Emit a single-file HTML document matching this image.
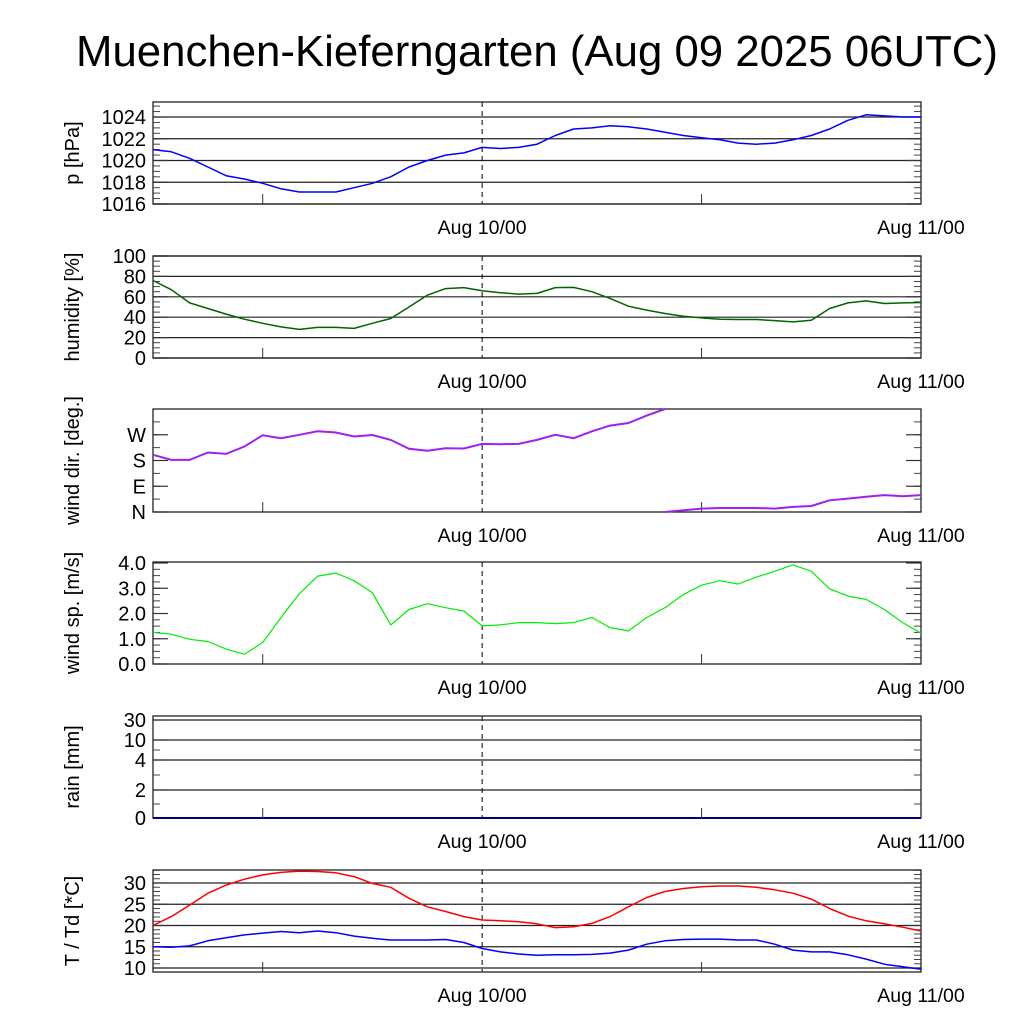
<!DOCTYPE html>
<html><head><meta charset="utf-8"><style>
html,body{margin:0;padding:0;background:#fff;}
svg{display:block;font-family:"Liberation Sans",Arial,sans-serif;}
</style></head><body>
<svg id="c" width="1024" height="1024" viewBox="0 0 1024 1024">
<text x="537" y="66" font-size="44" text-anchor="middle" textLength="922" lengthAdjust="spacingAndGlyphs">Muenchen-Kieferngarten (Aug 09 2025 06UTC)</text>
<g id="g"></g>
</svg>
<script>
const hours = [0,1,2,3,4,5,6,7,8,9,10,11,12,13,14,15,16,17,18,19,20,21,22,23,24,25,26,27,28,29,30,31,32,33,34,35,36,37,38,39,40,41,42];
const pressure = [1021,1020.8,1020.2,1019.4,1018.6,1018.3,1017.9,1017.4,1017.1,1017.1,1017.1,1017.5,1017.9,1018.5,1019.4,1020.0,1020.5,1020.7,1021.2,1021.1,1021.2,1021.5,1022.3,1022.9,1023.0,1023.2,1023.1,1022.9,1022.6,1022.3,1022.1,1021.9,1021.6,1021.5,1021.6,1021.9,1022.3,1022.9,1023.7,1024.2,1024.1,1024.0,1024.0];
const humidity = [76,67,54,48.5,43,38,34,30.5,28,30,30,29,34,38.7,50,61.6,68,69,66,64,62.6,63.3,69,69.2,65,58.4,50.8,47,43.6,41,39.3,38,37.7,37.7,36.7,35.4,37,48.5,54,56,53.4,54,54.4];
const windDir = [200,182,182,208,203,229,268,258,270,282,278,264,269,252,221,214,223,222,238,237,238,252,270,258,282,302,311,337,360,366,372,374,374,374,372,378,381,401,407,413,419,415,419];
const windSpeed = [1.25,1.18,0.98,0.89,0.59,0.39,0.85,1.84,2.78,3.48,3.6,3.3,2.82,1.55,2.16,2.39,2.23,2.1,1.51,1.55,1.64,1.64,1.6,1.64,1.84,1.44,1.31,1.84,2.23,2.75,3.12,3.3,3.17,3.44,3.67,3.93,3.67,2.98,2.69,2.56,2.16,1.64,1.22];
const rain = [0,0,0,0,0,0,0,0,0,0,0,0,0,0,0,0,0,0,0,0,0,0,0,0,0,0,0,0,0,0,0,0,0,0,0,0,0,0,0,0,0,0,0];
const temperature = [20,22.1,24.8,27.6,29.5,30.9,31.9,32.5,32.8,32.7,32.4,31.5,29.9,29,26.4,24.4,23.3,22.1,21.3,21.1,20.9,20.4,19.5,19.7,20.5,22.1,24.4,26.6,28,28.7,29.1,29.3,29.3,29,28.4,27.6,26.2,24,22.2,21.1,20.4,19.6,18.7];
const dewpoint = [15,14.9,15.2,16.4,17.1,17.8,18.2,18.6,18.3,18.7,18.3,17.5,17,16.6,16.6,16.6,16.7,16,14.6,13.8,13.3,13,13.1,13.1,13.2,13.5,14.2,15.6,16.4,16.7,16.8,16.8,16.6,16.6,15.6,14.2,13.8,13.8,13.1,12.1,10.9,10.3,9.7];
const pTicks = [1016,1018,1020,1022,1024];
const hTicks = [0,20,40,60,80,100];
const dirTicks = [0,90,180,270];
const dirLabels = ["N","E","S","W"];
const wsTicks = [0,1,2,3,4];
const rainTicks = [0,2,4,10,30];
const tTicks = [10,15,20,25,30];
const xLabelHours = [18,42];
const xLabels = ["Aug 10/00","Aug 11/00"];

const NS="http://www.w3.org/2000/svg";
const G=document.getElementById('g');
function mk(t,a,p){const e=document.createElementNS(NS,t);for(const k in a)e.setAttribute(k,a[k]);(p||G).appendChild(e);return e;}
const X0=153,X1=921;
function xs(h){return X0+(X1-X0)*h/42;}
function lin(d0,d1,r0,r1){return v=>r0+(v-d0)*(r1-r0)/(d1-d0);}
const rainDom=[0,2,4,10,30], rainRng=[818,790,760,740,720];
function rainY(v){for(let i=0;i<rainDom.length-1;i++){if(v<=rainDom[i+1])return rainRng[i]+(v-rainDom[i])*(rainRng[i+1]-rainRng[i])/(rainDom[i+1]-rainDom[i]);}return rainRng[rainRng.length-1];}

function panel(name,top,bot,y,ticks,labels,grid,minorStep,ymin,ymax,title){
  const g=mk('g',{});
  
  
  if(grid){ticks.forEach(t=>{const yy=y(t);const l=mk('line',{x1:X0,x2:X1,y1:yy,y2:yy,stroke:'#222','stroke-width':1.2},g);});}
  if(minorStep){for(let v=ymin;v<=ymax+1e-9;v+=minorStep){const yy=y(v);if(yy<top||yy>bot)continue;mk('line',{x1:X0,x2:X0+7,y1:yy,y2:yy,stroke:'#444'},g);mk('line',{x1:X1-7,x2:X1,y1:yy,y2:yy,stroke:'#444'},g);}}
  ticks.forEach((t,i)=>{const yy=y(t);mk('line',{x1:X0,x2:X0+15,y1:yy,y2:yy,stroke:'#333','stroke-width':1.2},g);mk('line',{x1:X1-15,x2:X1,y1:yy,y2:yy,stroke:'#333','stroke-width':1.2},g);
    const tx=mk('text',{x:146,y:yy+7,'font-size':20,'text-anchor':'end'},g);tx.textContent=labels[i];
    });
  [6,30].forEach(h=>mk('line',{x1:xs(h),x2:xs(h),y1:bot-10,y2:bot,stroke:'#333'},g));
  mk('line',{x1:xs(18),x2:xs(18),y1:top,y2:bot,stroke:'#000','stroke-dasharray':'5,4'},g);
  const fr=mk('rect',{x:X0,y:top,width:X1-X0,height:bot-top,fill:'none',stroke:'#222','stroke-width':1.3},g);
  
  xLabelHours.forEach((h,i)=>{const t=mk('text',{x:xs(h),y:bot+30,'font-size':19.5,'text-anchor':'middle'},g);t.textContent=xLabels[i];});
  const cy=(top+bot)/2;
  const tt=mk('text',{x:0,y:0,'font-size':20,'text-anchor':'middle',transform:`translate(79,${cy}) rotate(-90)`},g);
  tt.textContent=title;
  return g;
}
function line(g,name,vals,y,color,w){
  const d=vals.map((v,i)=>(i?'L':'M')+xs(hours[i]).toFixed(1)+','+y(v).toFixed(1)).join('');
  const p=mk('path',{d:d,fill:'none',stroke:color,'stroke-width':w||1.5,'stroke-linejoin':'round'},g);
  
}
let yP=lin(1016,1024,204,117);
let g1=panel('pressure',102,204,yP,pTicks,pTicks.map(String),true,0.5,1016,1025.4,'p [hPa]');
line(g1,'pressure-line',pressure,yP,'#0000ff');
let yH=lin(0,100,358,256);
let g2=panel('humidity',256,358,yH,hTicks,hTicks.map(String),true,5,0,100,'humidity [%]');
line(g2,'humidity-line',humidity,yH,'#006400');
let yD=lin(0,360,512,409);
let g3=panel('wind-dir',409,512,yD,dirTicks,dirLabels,false,45,0,360,'wind dir. [deg.]');
(function(){
  let segs=[],cur=[];
  for(let i=0;i<windDir.length;i++){
    const v=((windDir[i]%360)+360)%360;
    if(i>0){const pv=((windDir[i-1]%360)+360)%360;
      if(Math.abs(v-pv)>180){
        const up=v<pv; const a=windDir[i-1],b=windDir[i];
        const bound=Math.ceil(Math.min(a,b)/360+1e-9)*360; const f=(bound-a)/(b-a);
        const hx=hours[i-1]+f*(hours[i]-hours[i-1]);
        cur.push([xs(hx),yD(up?360:0)]);segs.push(cur);cur=[[xs(hx),yD(up?0:360)]];
      }}
    cur.push([xs(hours[i]),yD(v)]);
  }
  segs.push(cur);
  segs.forEach(s=>{const p=mk('path',{d:s.map((q,i)=>(i?'L':'M')+q[0].toFixed(1)+','+q[1].toFixed(1)).join(''),fill:'none',stroke:'#a020f0','stroke-width':2},g3);
    });
})();
let yS=lin(0,4,664,563);
let g4=panel('wind-speed',562,664,yS,wsTicks,wsTicks.map(v=>v.toFixed(1)),false,0.25,0,4,'wind sp. [m/s]');
line(g4,'wind-speed-line',windSpeed,yS,'#00ee00',1.2);
let g5=panel('rain',716,818,rainY,rainTicks,rainTicks.map(String),true,null,0,30,'rain [mm]');
[1,3,7].forEach(v=>{const yy=rainY(v);mk('line',{x1:X0,x2:X0+7,y1:yy,y2:yy,stroke:'#444'},g5);mk('line',{x1:X1-7,x2:X1,y1:yy,y2:yy,stroke:'#444'},g5);});
line(g5,'rain-line',rain,rainY,'#000080',2);
let yT=lin(10,30,968,883);
let g6=panel('temperature',870,972,yT,tTicks,tTicks.map(String),true,1,9,33,'T / Td [*C]');
line(g6,'temperature-line',temperature,yT,'#ff0000');
line(g6,'dewpoint-line',dewpoint,yT,'#0000ff');
</script>
</body></html>
